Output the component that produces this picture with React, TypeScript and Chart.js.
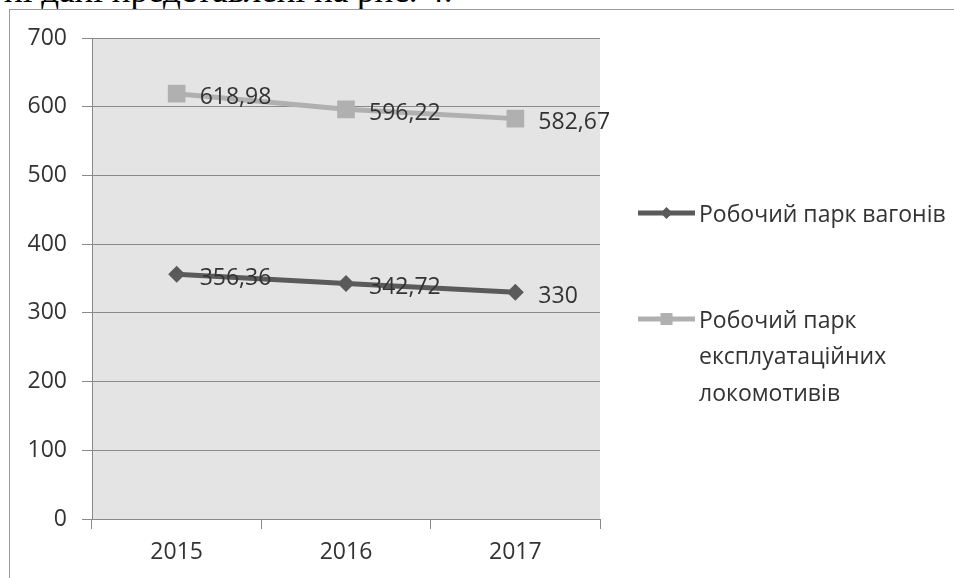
import React, { useEffect, useRef } from "react";
import { Chart, registerables } from "chart.js";

Chart.register(...registerables);

// Categories and series
const years: string[] = ["2015", "2016", "2017"];
const wagons: number[] = [356.36, 342.72, 330];
const locomotives: number[] = [618.98, 596.22, 582.67];

// Legend texts
const wagonsLabel = "Робочий парк вагонів";
const locoLabelLines: string[] = ["Робочий парк", "експлуатаційних", "локомотивів"];

// Value axis
const yMin = 0;
const yMax = 700;
const yStep = 100;

const FONT = "'Open Sans', 'Noto Sans', sans-serif";
const SIZE = 23;
const TEXT = "#333333";
const DARK = "#5a5a5a";
const LIGHT = "#b0b0b0";

const fmt = (v: number) => String(v).replace(".", ",");

const plotBackground = {
  id: "plotBackground",
  beforeDraw(chart: any) {
    const { ctx, chartArea } = chart;
    ctx.save();
    ctx.fillStyle = "#e4e4e4";
    ctx.fillRect(chartArea.left, chartArea.top, chartArea.right - chartArea.left, chartArea.bottom - chartArea.top);
    ctx.restore();
  },
};

const valueLabels = {
  id: "valueLabels",
  afterDatasetsDraw(chart: any) {
    const { ctx } = chart;
    ctx.save();
    ctx.font = `${SIZE}px ${FONT}`;
    ctx.fillStyle = TEXT;
    ctx.textAlign = "left";
    ctx.textBaseline = "middle";
    chart.data.datasets.forEach((ds: any, i: number) => {
      const meta = chart.getDatasetMeta(i);
      meta.data.forEach((pt: any, j: number) => {
        ctx.fillText(fmt(ds.data[j]), pt.x + 23, pt.y + 4);
      });
    });
    ctx.restore();
  },
};

const sideLegend = {
  id: "sideLegend",
  afterDraw(chart: any) {
    const { ctx, chartArea } = chart;
    const x0 = chartArea.right + 38;
    const lineLen = 57;
    const tx = x0 + 61;
    ctx.save();
    ctx.font = `${SIZE}px ${FONT}`;
    ctx.textAlign = "left";
    ctx.textBaseline = "middle";

    // entry 1: wagons
    let y = 204;
    ctx.strokeStyle = DARK;
    ctx.lineWidth = 5;
    ctx.beginPath();
    ctx.moveTo(x0, y);
    ctx.lineTo(x0 + lineLen, y);
    ctx.stroke();
    ctx.fillStyle = DARK;
    const cx = x0 + lineLen / 2;
    ctx.beginPath();
    ctx.moveTo(cx - 6, y);
    ctx.lineTo(cx, y - 6);
    ctx.lineTo(cx + 6, y);
    ctx.lineTo(cx, y + 6);
    ctx.closePath();
    ctx.fill();
    ctx.fillStyle = TEXT;
    ctx.fillText(wagonsLabel, tx, y + 2);

    // entry 2: locomotives
    y = 310;
    ctx.strokeStyle = LIGHT;
    ctx.beginPath();
    ctx.moveTo(x0, y);
    ctx.lineTo(x0 + lineLen, y);
    ctx.stroke();
    ctx.fillStyle = LIGHT;
    ctx.fillRect(cx - 6, y - 6, 12, 12);
    ctx.fillStyle = TEXT;
    locoLabelLines.forEach((t, k) => ctx.fillText(t, tx, y + 2 + k * 36.5));
    ctx.restore();
  },
};

export default function App() {
  const ref = useRef<HTMLCanvasElement | null>(null);

  useEffect(() => {
    if (!ref.current) return;
    const chart = new Chart(ref.current, {
      type: "line",
      data: {
        labels: years,
        datasets: [
          {
            label: wagonsLabel,
            data: wagons,
            borderColor: DARK,
            backgroundColor: DARK,
            borderWidth: 5,
            pointStyle: "rectRot",
            pointRadius: 8.5,
            pointBorderWidth: 0,
            tension: 0,
          },
          {
            label: locoLabelLines.join(" "),
            data: locomotives,
            borderColor: LIGHT,
            backgroundColor: LIGHT,
            borderWidth: 5,
            pointStyle: "rect",
            pointRadius: 12.5,
            pointBorderWidth: 0,
            tension: 0,
          },
        ],
      },
      options: {
        responsive: false,
        animation: false,
        events: [],
        layout: { padding: { top: 29, right: 354, bottom: 0, left: 0 } },
        plugins: {
          legend: { display: false },
          tooltip: { enabled: false },
          title: { display: false },
        },
        scales: {
          x: {
            offset: true,
            grid: {
              display: true,
              offset: true,
              drawOnChartArea: false,
              drawTicks: true,
              tickLength: 10,
              color: "#8a8a8a",
            },
            border: { display: true, color: "#8a8a8a" },
            ticks: {
              font: { family: FONT, size: SIZE },
              color: TEXT,
              padding: 10,
            },
            afterFit(scale: any) {
              scale.height = 59;
            },
          },
          y: {
            min: yMin,
            max: yMax,
            ticks: {
              stepSize: yStep,
              font: { family: FONT, size: SIZE },
              color: TEXT,
              padding: 15,
            },
            grid: {
              color: "#8a8a8a",
              lineWidth: 1,
              tickLength: 10,
            },
            border: { display: true, color: "#8a8a8a" },
            afterFit(scale: any) {
              scale.width = 83;
            },
          },
        },
      },
      plugins: [plotBackground, valueLabels, sideLegend],
    });
    return () => chart.destroy();
  }, []);

  return (
    <div
      style={{
        position: "fixed",
        left: 0,
        top: 0,
        width: 954,
        height: 578,
        background: "#fff",
        overflow: "hidden",
      }}
    >
      <div
        style={{
          position: "absolute",
          left: 4,
          top: -27,
          whiteSpace: "nowrap",
          font: "35px 'Liberation Serif', 'Times New Roman', serif",
          lineHeight: "35px",
          color: "#000",
        }}
      >
        ні дані представлені на рис. 4.
      </div>
      <div
        style={{
          position: "absolute",
          left: 9,
          top: 9,
          width: 960,
          height: 580,
          borderLeft: "1px solid #9a9a9a",
          borderTop: "1px solid #9a9a9a",
          background: "#fff",
        }}
      />
      <canvas
        ref={ref}
        width={945}
        height={569}
        style={{ position: "absolute", left: 9, top: 9, width: 945, height: 569 }}
      />
    </div>
  );
}
